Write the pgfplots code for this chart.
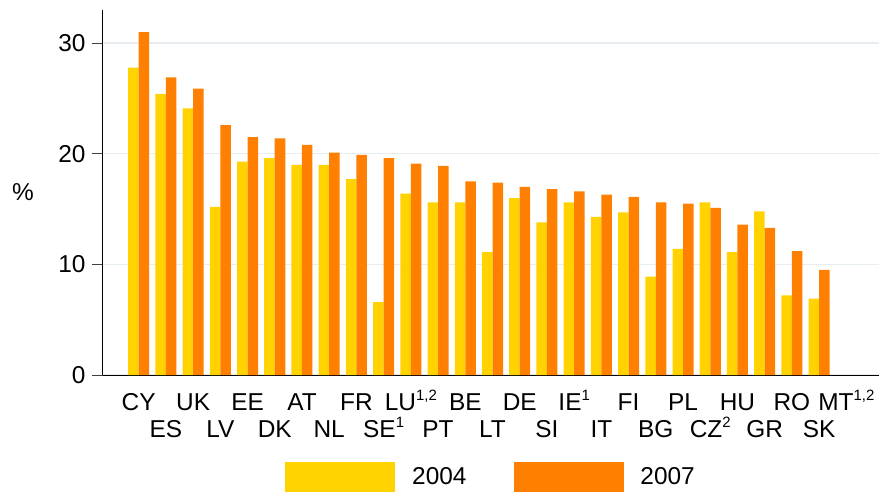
\documentclass[border=0pt]{standalone}
\usepackage{fontspec}
\setmainfont{Liberation Sans}
\usepackage{pgfplots}
\usepackage{pgfplotstable}
\pgfplotsset{compat=1.18}
\definecolor{yel}{HTML}{FFD200}
\definecolor{org}{HTML}{FF8000}
\definecolor{gridc}{HTML}{E6EEF2}
\newcommand\sups[1]{\raisebox{10bp}{\fontsize{15}{15}\selectfont #1}}
\pgfplotstableread{
idx y04 y07
0 27.8 31.0
1 25.4 26.9
2 24.1 25.9
3 15.2 22.6
4 19.3 21.5
5 19.6 21.4
6 19.0 20.8
7 19.0 20.1
8 17.7 19.9
9 6.6 19.6
10 16.4 19.1
11 15.6 18.9
12 15.6 17.5
13 11.1 17.4
14 16.0 17.0
15 13.8 16.8
16 15.6 16.6
17 14.3 16.3
18 14.7 16.1
19 8.9 15.6
20 11.4 15.5
21 15.6 15.1
22 11.1 13.6
23 14.8 13.3
24 7.2 11.2
25 6.9 9.5
}\datatable
\begin{document}
\begin{tikzpicture}
\useasboundingbox (-103bp,-121bp) rectangle (776bp,375bp);
\begin{axis}[
  at={(0,0)}, anchor=south west,
  scale only axis,
  width=776bp, height=365bp,
  xmin=-1.31, xmax=27.2,
  ymin=0, ymax=33,
  axis x line*=bottom, axis y line*=left,
  axis line style={black, line width=1bp},
  ytick={0,10,20,30},
  ymajorgrids,
  grid style={gridc, line width=1.4bp},
  tick align=outside,
  major tick length=11bp,
  ytick style={black!75, line width=1bp},
  xtick style={draw=none},
  xtick={0,2,...,26},
  xticklabels={CY,UK,EE,AT,FR,{LU\sups{1,2}},BE,DE,{IE\sups{1}},FI,PL,HU,RO,{MT\sups{1,2}}},
  extra x ticks={1,3,...,25},
  extra x tick labels={ES,LV,DK,NL,{SE\sups{1}},PT,LT,SI,IT,BG,{CZ\sups{2}},GR,SK},
  extra x tick style={grid=none, xticklabel style={yshift=-27bp}},
  ticklabel style={font=\fontsize{24.5}{26}\selectfont},
  xticklabel style={anchor=base, yshift=-24bp},
  yticklabel style={xshift=-3bp},
  /pgf/number format/assume math mode=true,
  every axis y label/.style={at={(axis description cs:0,0.5)}, anchor=center, xshift=-80bp, font=\fontsize{24.5}{26}\selectfont},
  ylabel={\%},
  legend style={at={(axis description cs:0.5,0)}, anchor=center, yshift=-102bp,
    draw=none, fill=none, font=\fontsize{24.5}{26}\selectfont,
    /tikz/every odd column/.append style={column sep=15bp},
    /tikz/every even column/.append style={column sep=45bp}},
  legend columns=2,
]
\addplot[ybar, bar width=0.386, bar shift=-0.193, fill=yel, draw=none,
  legend image code/.code={\fill[yel] (0bp,-15bp) rectangle (110bp,15bp);}]
  table[x=idx, y=y04] {\datatable};
\addlegendentry{2004}
\addplot[ybar, bar width=0.386, bar shift=0.193, fill=org, draw=none,
  legend image code/.code={\fill[org] (0bp,-15bp) rectangle (110bp,15bp);}]
  table[x=idx, y=y07] {\datatable};
\addlegendentry{2007}
\end{axis}
\end{tikzpicture}
\end{document}
